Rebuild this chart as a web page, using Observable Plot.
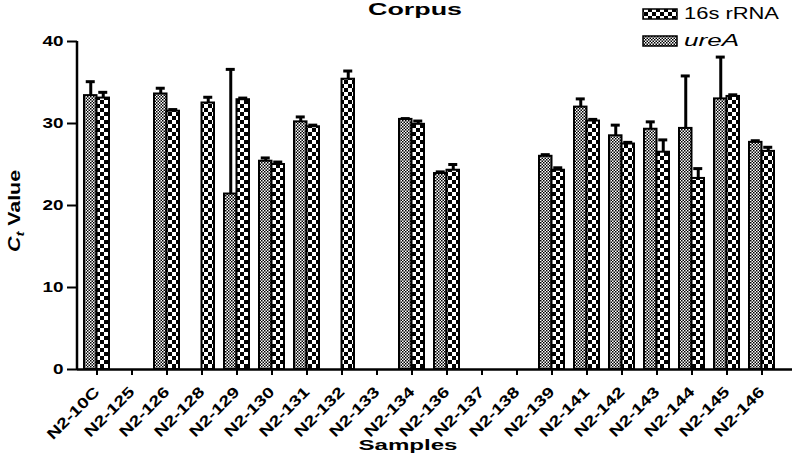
<!DOCTYPE html>
<html><head><meta charset="utf-8">
<script src="https://cdn.jsdelivr.net/npm/d3@7"></script>
<script src="https://cdn.jsdelivr.net/npm/@observablehq/plot@0.6"></script>
<style>body{margin:0;background:#fff}</style>
</head><body><div id="chart"></div>
<script>
const samples = ["N2-10C","N2-125","N2-126","N2-128","N2-129","N2-130","N2-131","N2-132","N2-133","N2-134","N2-136","N2-137","N2-138","N2-139","N2-141","N2-142","N2-143","N2-144","N2-145","N2-146"];
const ureA    = [33.4,null,33.6,null,21.4,25.4,30.2,null,null,30.5,23.9,null,null,26.0,32.0,28.5,29.3,29.4,33.0,27.7];
const ureAErr = [1.7,null,0.7,null,15.2,0.4,0.6,null,null,0.1,0.2,null,null,0.2,1.0,1.3,0.9,6.4,5.1,0.2];
const rRNA    = [33.1,null,31.5,32.5,32.9,25.0,29.6,35.4,null,29.9,24.3,null,null,24.3,30.3,27.5,26.5,23.3,33.3,26.6];
const rRNAErr = [0.7,null,0.2,0.7,0.2,0.3,0.2,1.0,null,0.4,0.7,null,null,0.3,0.2,0.2,1.5,1.2,0.2,0.5];
const yTicks = [0,10,20,30,40];

const data = samples.map((s,i)=>({sample:s, ureA:ureA[i], ureAErr:ureAErr[i], rRNA:rRNA[i], rRNAErr:rRNAErr[i]}));
const dU = data.filter(d=>d.ureA!=null);
const dR = data.filter(d=>d.rRNA!=null);

const half = 12.5;
const svg = Plot.plot({
  width: 797, height: 455,
  marginLeft: 77, marginRight: 5, marginTop: 41, marginBottom: 86,
  style: {background: "white", color: "black", fontFamily: "'Liberation Sans', Arial, sans-serif"},
  x: {domain: samples, paddingInner: 0.29, paddingOuter: 0.285, align: 0.275},
  y: {domain: [0,40]},
  marks: [
    Plot.barY(dU, {x:"sample", y:"ureA", fill:"url(#fine)", stroke:"black", strokeWidth:2, insetRight: half}),
    Plot.barY(dR, {x:"sample", y:"rRNA", fill:"url(#coarse)", stroke:"black", strokeWidth:2, insetLeft: half}),
    Plot.ruleX(dU, {x:"sample", y1:"ureA", y2:d=>d.ureA+d.ureAErr, strokeWidth:3, dx:-half/2}),
    Plot.ruleX(dR, {x:"sample", y1:"rRNA", y2:d=>d.rRNA+d.rRNAErr, strokeWidth:3, dx:half/2}),
    Plot.tickY(dU, {x:"sample", y:d=>d.ureA+d.ureAErr, strokeWidth:3, insetLeft:1.75, insetRight:14.25}),
    Plot.tickY(dR, {x:"sample", y:d=>d.rRNA+d.rRNAErr, strokeWidth:3, insetLeft:14.25, insetRight:1.75}),
    Plot.ruleY([0], {strokeWidth:2.5}),
    Plot.axisY({ticks: yTicks, tickSize: 10, tickPadding: 4, strokeWidth: 2, fontSize: 14, fontWeight: "bold", label: null}),
    Plot.axisX({tickSize: 6, tickPadding: 14, strokeWidth: 2, tickRotate: -45, fontSize: 15, fontWeight: "bold", label: null})
  ]
});
document.getElementById("chart").appendChild(svg);

const s = d3.select(svg);
const defs = s.insert("defs", ":first-child");
function checker(id, c) {
  const p = defs.append("pattern").attr("id", id).attr("patternUnits","userSpaceOnUse").attr("width", 2*c).attr("height", 2*c);
  p.append("rect").attr("width", 2*c).attr("height", 2*c).attr("fill","white");
  p.append("rect").attr("width", c).attr("height", c).attr("fill","black");
  p.append("rect").attr("x", c).attr("y", c).attr("width", c).attr("height", c).attr("fill","black");
}
checker("coarse", 4);
checker("fine", 1.5);

const yS = svg.scale("y");
s.append("line").attr("x1",77).attr("x2",77).attr("y1",yS.apply(40)).attr("y2",yS.apply(0)+1).attr("stroke","black").attr("stroke-width",2.5);

function stretch(sel, f) {
  sel.each(function(){ const L = this.getComputedTextLength(); this.setAttribute("textLength", L*f); this.setAttribute("lengthAdjust","spacingAndGlyphs"); });
}
stretch(s.selectAll('g[aria-label="y-axis tick label"] text'), 1.35);
stretch(s.selectAll('g[aria-label="x-axis tick label"] text'), 1.3);

const FF = "'Liberation Sans', Arial, sans-serif";
function fit(t, len){ t.attr("textLength", len).attr("lengthAdjust","spacingAndGlyphs"); }
fit(s.append("text").attr("x",415).attr("y",15).attr("text-anchor","middle").attr("font-family",FF).attr("font-weight","bold").attr("font-size",16).text("Corpus"), 94);
fit(s.append("text").attr("x",408).attr("y",450).attr("text-anchor","middle").attr("font-family",FF).attr("font-weight","bold").attr("font-size",15).text("Samples"), 99);
const yt = s.append("text").attr("transform","translate(20,211) rotate(-90)").attr("text-anchor","middle").attr("font-family",FF).attr("font-weight","bold").attr("font-size",16);
yt.append("tspan").attr("font-style","italic").text("C");
yt.append("tspan").attr("font-style","italic").attr("font-size",11).attr("dy",4).text("t");
yt.append("tspan").attr("dy",-4).text(" Value");
fit(yt, 82);

const leg = [{label:"16s rRNA", pat:"coarse", y:9, italic:false, len:95}, {label:"ureA", pat:"fine", y:36, italic:true, len:55}];
leg.forEach(l=>{
  s.append("rect").attr("x",643).attr("y",l.y).attr("width",34).attr("height",10).attr("fill",`url(#${l.pat})`).attr("stroke","black").attr("stroke-width",1.5);
  fit(s.append("text").attr("x",684).attr("y",l.y+10).attr("text-anchor","start").attr("font-family",FF).attr("font-size",16).attr("font-style",l.italic?"italic":"normal").text(l.label), l.len);
});
</script>
</body></html>
